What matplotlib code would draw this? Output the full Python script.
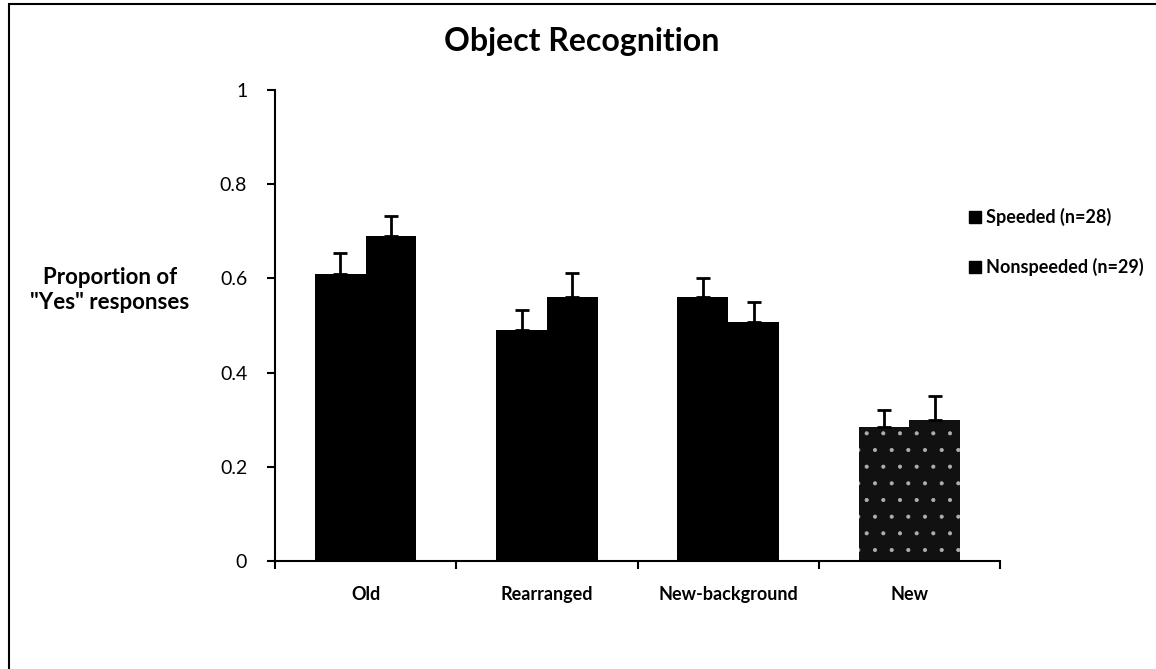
import numpy as np
import matplotlib
matplotlib.use('agg')
import matplotlib.pyplot as plt
from matplotlib.patches import Rectangle
from matplotlib.lines import Line2D

plt.rcParams['font.family'] = ['Lato', 'DejaVu Sans']
plt.rcParams['hatch.linewidth'] = 0.5

categories = ['Old', 'Rearranged', 'New-background', 'New']
speeded = [0.61, 0.49, 0.56, 0.284]
speeded_err = [0.043, 0.042, 0.040, 0.036]
nonspeeded = [0.69, 0.56, 0.508, 0.299]
nonspeeded_err = [0.043, 0.052, 0.042, 0.051]
series_labels = ['Speeded (n=28)', 'Nonspeeded (n=29)']
yticks = [0, 0.2, 0.4, 0.6, 0.8, 1]

fig = plt.figure(figsize=(11.56, 6.69), dpi=100)
ax = fig.add_axes([275/1156, 1-561/669, 725/1156, 471/669])

x = np.arange(len(categories))
w = 0.28
err_kw = dict(ecolor='black', elinewidth=2, capsize=5, capthick=2)
for i, (vals, errs) in enumerate([(speeded, speeded_err), (nonspeeded, nonspeeded_err)]):
    pos = x + (i - 0.5) * w
    yerr = [np.zeros(len(vals)), errs]
    bars = ax.bar(pos, vals, w, color='black', linewidth=0, yerr=yerr,
                  error_kw=err_kw, zorder=2)
    # last category is drawn with a dotted fill
    bars[-1].set_facecolor('#111111')
    bars[-1].set_edgecolor('#b0b0b0')
    bars[-1].set_hatch('.')
    bars[-1].set_linewidth(0)

ax.set_xlim(-0.5, len(categories) - 0.5)
ax.set_ylim(0, 1)
ax.set_yticks(yticks)
ax.set_yticklabels(['0', '0.2', '0.4', '0.6', '0.8', '1'], fontsize=14)
ax.set_xticks(x)
ax.set_xticklabels(categories, fontsize=13, fontweight='bold')
ax.tick_params(axis='x', length=0, pad=18)
ax.set_xticks(np.arange(len(categories) + 1) - 0.5, minor=True)
ax.tick_params(axis='x', which='minor', length=6, width=1.5, direction='out')
ax.tick_params(axis='y', length=6, width=1.5, direction='out', pad=14)
for s in ['top', 'right']:
    ax.spines[s].set_visible(False)
for s in ['left', 'bottom']:
    ax.spines[s].set_linewidth(1.5)

fig.text(582/1156, 1-42/669, 'Object Recognition', ha='center', va='center',
         fontsize=23, fontweight='bold')
fig.text(110/1156, 1-290/669, 'Proportion of\n"Yes" responses', ha='center',
         va='center', fontsize=16, fontweight='bold', linespacing=1.25)

handles = [Line2D([], [], marker='s', color='black', linestyle='none', markersize=8)
           for _ in series_labels]
leg = fig.legend(handles, series_labels, loc='upper left',
                 bbox_to_anchor=(950/1156, 1-192/669), frameon=False,
                 prop={'size': 13, 'weight': 'bold'}, labelspacing=1.75,
                 handletextpad=0.1, handlelength=1.0)

fig.add_artist(Rectangle((9/1156, -0.1), 1.2, 1.1 - 4/669, transform=fig.transFigure,
                         fill=False, edgecolor='black', linewidth=1.5))

fig.savefig('out.png', dpi=100)
